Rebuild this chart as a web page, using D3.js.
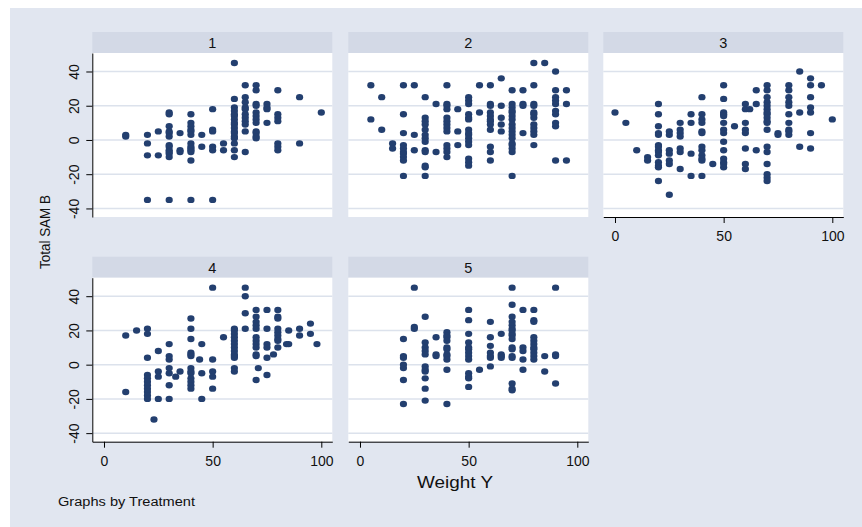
<!DOCTYPE html>
<html><head><meta charset="utf-8">
<script src="https://cdn.jsdelivr.net/npm/d3@7"></script>
<style>body{margin:0;background:#fff} svg{display:block} text{font-family:"Liberation Sans",Arial,sans-serif}</style>
</head><body><svg id="c" width="862" height="527"></svg>
<script>
const treatments = ["1", "2", "3", "4", "5"];
const xTicks = [0, 50, 100];
const yTicks = [-40, -20, 0, 20, 40];
const xTitle = "Weight Y";
const yTitle = "Total SAM B";
const note = "Graphs by Treatment";

// [weight, [total SAM B values at that weight]]
const treat1 = [
  [10, [2, 3]], [20, [3, -2, -9, -35]], [25, [5, -9]],
  [30, [16, 15, 8, 5, 4, 2, -3, -4, -6, -7, -8, -10, -35]], [35, [4, -6, -7]],
  [40, [15, 10, 8, 6, 5, 3, -2, -4, -5, -6, -7, -12, -35]], [45, [3, -4]],
  [50, [18, 6, 5, -4, -6, -35]], [55, [-2, -6]],
  [60, [45, 24, 19, 17, 15, 14, 12, 10, 9, 7, 5, 4, 2, 1, -2, -6, -10]],
  [65, [32, 25, 22, 19, 18, 15, 13, 11, 9, 5, -7]],
  [70, [32, 29, 21, 20, 16, 14, 12, 10, 5, 4, 2, 1]],
  [75, [21, 19, 18, 10]], [80, [29, 15, 13, 11, -2, -4, -6]],
  [90, [25, -2]], [100, [16]]
];
const treat2 = [
  [5, [32, 12]], [10, [25, 6]], [15, [-2, -5]],
  [20, [32, 15, 4, -3, -5, -7, -8, -10, -12, -21]], [25, [32, 3, -6]],
  [30, [25, 13, 11, 9, 6, 3, 1, -1, -6, -7, -15, -16, -21]], [35, [21, -7]],
  [40, [32, 21, 20, 18, 13, 11, 9, 7, 5, -3, -5, -7, -10]], [45, [18, 5, -3]],
  [50, [25, 23, 21, 15, 13, 12, 6, 4, 3, 1, -1, -3, -11, -13, -15]], [55, [32, 16]],
  [60, [32, 21, 20, 16, 14, 12, 11, 9, 6, -4, -7, -12]], [65, [36, 20, 13, 9, 5]],
  [70, [29, 21, 19, 17, 16, 14, 12, 9, 7, 5, 3, 1, -2, -3, -5, -7, -21]],
  [75, [29, 21, 20, 4]], [80, [45, 32, 21, 20, 16, 15, 13, 9, 7, 5, 3, -3]],
  [85, [45]], [90, [40, 29, 25, 23, 21, 17, 15, 10, 8, -12]], [95, [29, 21, -12]]
];
const treat3 = [
  [0, [16]], [5, [10]], [10, [-6]], [15, [-10, -12]],
  [20, [21, 15, 8, 4, 3, -3, -4, -6, -7, -9, -13, -15, -16, -24]],
  [25, [5, 3, -6, -8, -12, -14, -32]], [30, [10, 6, 4, 2, -5, -7, -17]],
  [35, [15, 10, -8, -21]], [40, [25, 15, 12, 10, 5, 4, -4, -6, -9, -11, -12, -21]],
  [45, [-14]], [50, [32, 24, 16, 15, 14, 10, 6, 4, -1, -6, -11, -13, -14, -16]],
  [55, [8]], [60, [21, 18, 10, 6, 4, -5, -14, -17]], [62, [18]], [65, [29, 21, -6]],
  [70, [32, 29, 25, 22, 20, 18, 16, 15, 13, 11, 10, 6, -4, -7, -14, -20, -22, -24]],
  [75, [4, 3]], [80, [32, 29, 25, 22, 20, 15, 10, 6, 5, 3]], [85, [40, 16, -4]],
  [90, [36, 32, 25, 19, 16, 4, -5]], [95, [32]], [100, [12]]
];
const treat4 = [
  [10, [17, -16]], [15, [20]], [20, [21, 18, 4, -6, -8, -10, -12, -14, -16, -18, -20]],
  [23, [-32]], [25, [8, -4, -7, -20]], [30, [12, 5, 3, -2, -5, -12, -20]], [33, [-7]],
  [35, [-4]], [40, [27, 21, 15, 7, 6, 5, -2, -4, -5, -8, -10, -12, -14]], [44, [3]],
  [45, [12, -5, -20]], [50, [45, 3, -4, -7, -14]], [55, [16]],
  [60, [21, 20, 18, 16, 14, 12, 10, 8, 6, 5, 4, -2, -4]], [65, [45, 40, 30, 21]],
  [70, [32, 28, 25, 23, 21, 16, 14, 12, 10, 6, 5, -9]], [71, [-2]],
  [75, [32, 21, 12, 10, 4, -6]], [78, [6]], [80, [32, 28, 27, 21, 19, 17, 15, 14, 10]],
  [84, [12]], [85, [20, 12]], [90, [21, 17]], [95, [24, 18]], [98, [12]]
];
const treat5 = [
  [20, [15, 5, 4, 0, -2, -9, -23]], [25, [45, 22, 21]],
  [30, [28, 13, 10, 8, 6, -1, -3, -4, -8, -14, -21]], [35, [16, 6, 5]],
  [40, [19, 17, 16, 14, 10, 9, 6, 5, 3, -3, -23]],
  [50, [32, 26, 18, 13, 10, 9, 7, 5, 3, -5, -7, -8, -13]], [55, [-3]],
  [60, [25, 16, 11, 7, 5, 4, -1]], [65, [18, 6, 5, 4]],
  [70, [45, 35, 28, 25, 23, 21, 20, 18, 17, 15, 10, 9, 5, 4, -11, -14, -15]],
  [75, [32, 10, 8, 3, -3]], [80, [32, 26, 25, 16, 14, 12, 10, 9, 7, 5, 3]],
  [85, [5, -4]], [90, [45, 6, 5, -11]]
];
const panelData = [treat1, treat2, treat3, treat4, treat5];

const svg = d3.select("#c");
svg.append("rect").attr("x", 10).attr("y", 8).attr("width", 852).attr("height", 519).attr("fill", "#E1E6F0");

const panelW = 240, stripH = 21, plotH = 164;
const lefts = [92.3, 348.3, 603.3], tops = [32, 256.7];
const x = d3.scaleLinear().domain([-5.38, 105.06]).range([0, panelW]);
const y = d3.scaleLinear().domain([-45, 50.8]).range([plotH, 0]);
const fmt = d => String(d);

treatments.forEach((t, i) => {
  const col = i % 3, row = Math.floor(i / 3);
  const g = svg.append("g").attr("transform", `translate(${lefts[col]},${tops[row]})`);
  g.append("rect").attr("width", panelW).attr("height", stripH).attr("fill", "#D3D9E6");
  g.append("text").attr("x", panelW / 2).attr("y", 16).attr("text-anchor", "middle")
    .attr("font-size", 14.5).attr("fill", "#111").text(t);
  const p = g.append("g").attr("transform", `translate(0,${stripH})`);
  p.append("rect").attr("width", panelW).attr("height", plotH).attr("fill", "#fff");
  p.selectAll("line.grid").data(yTicks).join("line").attr("class", "grid")
    .attr("x1", 0).attr("x2", panelW).attr("y1", d => y(d)).attr("y2", d => y(d))
    .attr("stroke", "#DCE2EC").attr("stroke-width", 1.5);
  const pts = panelData[i].flatMap(([w, vals]) => vals.map(v => ({ w, v })));
  p.selectAll("ellipse").data(pts).join("ellipse")
    .attr("cx", d => x(d.w)).attr("cy", d => y(d.v)).attr("rx", 3.6).attr("ry", 3.2).attr("fill", "#233F6F");
  if (col === 0) {
    const ya = p.append("g").call(d3.axisLeft(y).tickValues(yTicks).tickFormat(fmt).tickSize(6).tickSizeOuter(0));
    ya.select(".domain").attr("stroke", "#000");
    ya.selectAll(".tick line").attr("stroke", "#000");
    ya.selectAll(".tick text").attr("x", 0).attr("dy", 0).attr("text-anchor", "middle")
      .attr("transform", "translate(-13,0) rotate(-90)").attr("font-size", 14)
      .attr("font-family", "Liberation Sans, Arial, sans-serif").attr("fill", "#111");
  }
  if (i >= 2) {
    const xa = p.append("g").attr("transform", `translate(0,${plotH})`)
      .call(d3.axisBottom(x).tickValues(xTicks).tickFormat(fmt).tickSize(6).tickSizeOuter(0).tickPadding(8.5));
    xa.select(".domain").attr("stroke", "#000");
    xa.selectAll(".tick line").attr("stroke", "#000");
    xa.selectAll(".tick text").attr("font-size", 14)
      .attr("font-family", "Liberation Sans, Arial, sans-serif").attr("fill", "#111");
  }
});

svg.append("text").attr("transform", "translate(50,232) rotate(-90)").attr("text-anchor", "middle")
  .attr("font-size", 15.5).attr("textLength", 74).attr("lengthAdjust", "spacingAndGlyphs")
  .attr("fill", "#111").text(yTitle);
svg.append("text").attr("x", 455).attr("y", 487.5).attr("text-anchor", "middle")
  .attr("font-size", 16.5).attr("textLength", 76).attr("lengthAdjust", "spacingAndGlyphs")
  .attr("fill", "#111").text(xTitle);
svg.append("text").attr("x", 58).attr("y", 505.5)
  .attr("font-size", 12.5).attr("textLength", 137).attr("lengthAdjust", "spacingAndGlyphs")
  .attr("fill", "#111").text(note);
</script></body></html>
